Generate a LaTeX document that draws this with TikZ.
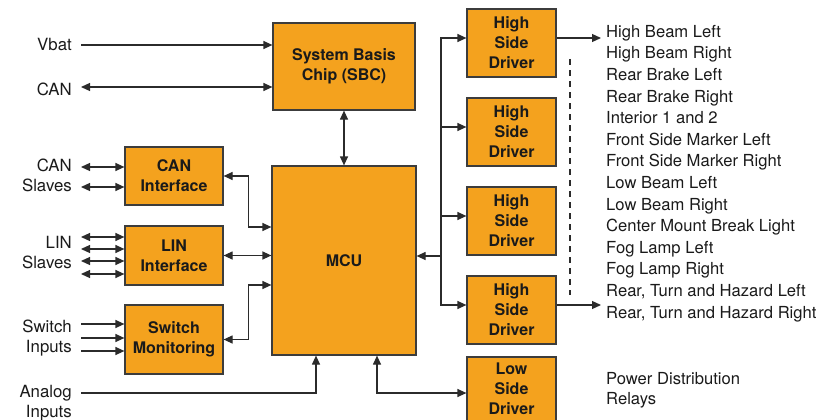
\documentclass[tikz,border=0pt]{standalone}
\usepackage{fontspec}
\setmainfont{TeX Gyre Heros}
\usetikzlibrary{arrows.meta}
\definecolor{BoxFill}{HTML}{F4A21E}
\definecolor{BoxLine}{HTML}{3C3C3C}
\definecolor{WireColor}{HTML}{2B2B2B}
\definecolor{TextDark}{HTML}{1A1A1A}

\begin{document}
\begin{tikzpicture}[
    x=1pt, y=-1pt,
    blk/.style={rectangle, draw=BoxLine, fill=BoxFill, line width=1.2pt, inner sep=0pt, align=center, font=\fontsize{16}{20}\selectfont\bfseries, text=TextDark},
    drv/.style={blk, minimum width=89pt, minimum height=68pt},
    iface/.style={blk, minimum width=98pt},
    lbl/.style={inner sep=0pt, align=right, anchor=north east, font=\fontsize{16.8}{20}\selectfont, text=TextDark},
    lst/.style={inner sep=0pt, anchor=base west, font=\fontsize{16.6}{20}\selectfont, text=TextDark},
    arr/.style={-{Triangle[length=9pt,width=8pt]}, line width=1.2pt, WireColor},
    darr/.style={{Triangle[length=9pt,width=8pt]}-{Triangle[length=9pt,width=8pt]}, line width=1.2pt, WireColor}
  ]
  \useasboundingbox (0,0) rectangle (832,420);

  \node[blk, minimum width=142pt, minimum height=87pt] (sbc) at (344,66.5) {System Basis\\Chip (SBC)};
  \node[blk, minimum width=144pt, minimum height=189pt] (mcu) at (344,260.5) {MCU};
  \node[iface, minimum height=58pt] (canif) at (174,176) {CAN\\Interface};
  \node[iface, minimum height=59pt] (linif) at (174,255.5) {LIN\\Interface};
  \node[iface, minimum height=69pt] (swmon) at (174,339.5) {Switch\\Monitoring};
  \node[drv] (hsd1) at (511.5,43) {High\\Side\\Driver};
  \node[drv] (hsd2) at (511.5,132) {High\\Side\\Driver};
  \node[drv] (hsd3) at (511.5,221) {High\\Side\\Driver};
  \node[drv] (hsd4) at (511.5,310) {High\\Side\\Driver};
  \node[drv, minimum height=64pt] (lsd) at (511.5,389) {Low\\Side\\Driver};

  \node[lbl] (vbat) at (72,38.3) {Vbat};
  \node[lbl] (can) at (72,82.3) {CAN};
  \node[lbl] (canslv) at (72,159) {CAN\\Slaves};
  \node[lbl] (linslv) at (72,235.7) {LIN\\Slaves};
  \node[lbl] (swin) at (72,320) {Switch\\Inputs};
  \node[lbl] (anin) at (72,385) {Analog\\Inputs};

  \foreach \t [count=\i] in {High Beam Left, High Beam Right, Rear Brake Left, Rear Brake Right, Interior 1 and 2, Front Side Marker Left, Front Side Marker Right, Low Beam Left, Low Beam Right, Center Mount Break Light, Fog Lamp Left, Fog Lamp Right, {Rear, Turn and Hazard Left}, {Rear, Turn and Hazard Right}}
    \node[lst] (ld\i) at (606,{37.3+21.6*(\i-1)}) {\t};
  \node[lst, anchor=north west, align=left, font=\fontsize{16.6}{20.3}\selectfont] (pdr) at (606,372.3) {Power Distribution\\Relays};

  \coordinate (vbatin) at (81,45);
  \coordinate (canin) at (81,87);
  \coordinate (anain) at (81,393);
  \coordinate (tap) at (441,256);

  \draw[arr] (vbatin) -- (vbatin -| sbc.west);
  \draw[darr] (canin) -- (canin -| sbc.west);
  \draw[darr] (sbc) -- (mcu);

  \foreach \yy [count=\i] in {167,187} {
    \coordinate (cs\i) at (81,\yy);
    \draw[darr] (cs\i) -- (cs\i -| canif.west);
  }
  \foreach \yy [count=\i] in {237,249,261,274} {
    \coordinate (ls\i) at (81,\yy);
    \draw[darr] (ls\i) -- (ls\i -| linif.west);
  }
  \foreach \yy [count=\i] in {324,338,351} {
    \coordinate (si\i) at (81,\yy);
    \draw[arr] (si\i) -- (si\i -| swmon.west);
  }

  \draw[darr] (canif.east) -- ++(25,0) |- ([yshift=33.5pt]mcu.west);
  \draw[darr] (linif.east) -- (linif.east -| mcu.west);
  \draw[darr] (swmon.east) -- ++(25,0) |- ([yshift=-24.5pt]mcu.west);
  \draw[arr] (anain) -| ([xshift=-28pt]mcu.south);
  \draw[darr] ([xshift=33pt]mcu.south) |- ([yshift=-4pt]lsd.west);

  \draw[arr] (tap) -- (tap -| mcu.east);
  \foreach \d in {hsd1,hsd2,hsd3,hsd4}
    \draw[arr] (tap) |- ([yshift=5pt]\d.west);

  \draw[arr, shorten >=5pt] ([yshift=5pt]hsd1.east) -- ([yshift=5pt]hsd1.east -| ld1.west);
  \draw[arr, shorten >=5pt] ([yshift=5pt]hsd4.east) -- ([yshift=5pt]hsd4.east -| ld14.west);
  \draw[WireColor, line width=1.2pt, dash pattern=on 6pt off 5pt] (570,59) -- (570,295);
\end{tikzpicture}
\end{document}
